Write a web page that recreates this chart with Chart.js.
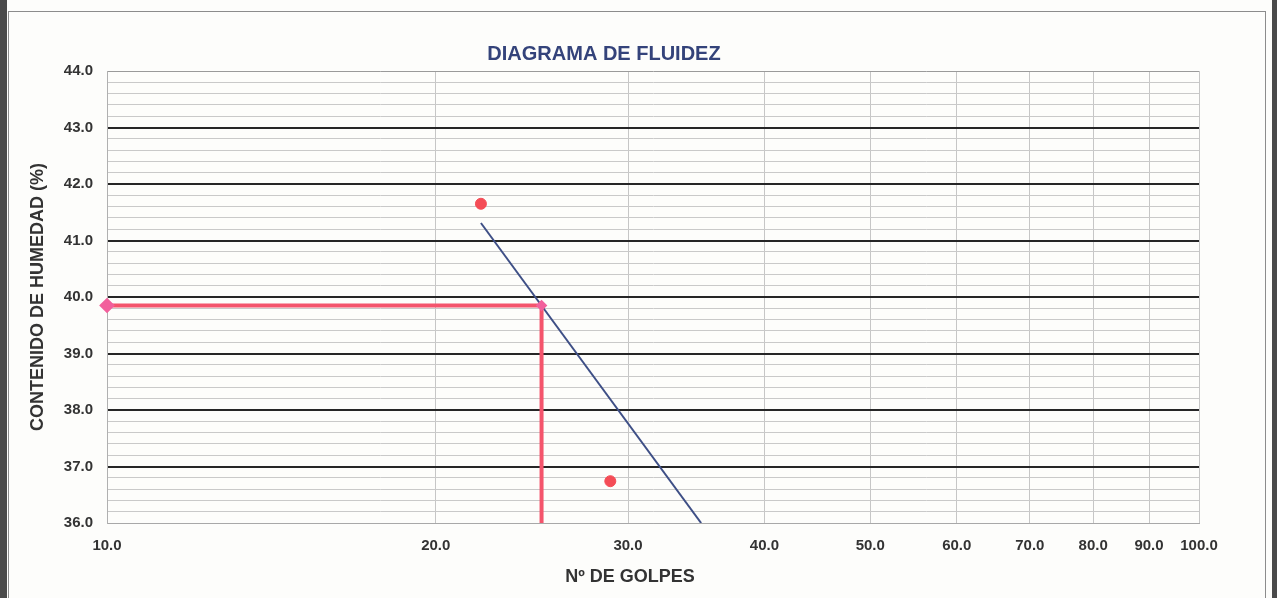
<!DOCTYPE html>
<html lang="es">
<head>
<meta charset="utf-8">
<title>Diagrama de fluidez</title>
<script src="https://cdn.jsdelivr.net/npm/chart.js@4.4.1/dist/chart.umd.min.js"></script>
<style>
    html, body { margin: 0; padding: 0; background: #fdfdfb; }
    #page { position: relative; width: 1277px; height: 598px; overflow: hidden; }
    #page .edge-left { position: absolute; left: 0; top: 0; width: 7px; height: 598px; background: #4a4a4a; }
    #page .edge-right { position: absolute; right: 0; top: 0; width: 5px; height: 598px; background: #4a4a4a; }
    #page .frame { position: absolute; left: 8px; top: 11px; width: 1256px; height: 600px; border: 1px solid #8c8c8c; }
    #chart-box { position: absolute; left: 0; top: 0; width: 1277px; height: 598px; }
</style>
</head>
<body>
<div id="page">
    <div class="edge-left"></div>
    <div class="edge-right"></div>
    <div class="frame"></div>
    <div id="chart-box"><canvas id="fluidez"></canvas></div>
</div>
<script>
// Ensayo de limite liquido: puntos medidos
const golpes = [22.0, 28.9];
const humedad = [41.65, 36.74];

// Recta de fluidez
const rectaGolpes = [22.0, 35.0];
const rectaHumedad = [41.31, 36.0];

// Lectura del limite liquido a 25 golpes
const lecturaGolpes = [10.0, 25.0, 25.0];
const lecturaHumedad = [39.85, 39.85, 36.0];

// Ejes
const xTicks = [10, 20, 30, 40, 50, 60, 70, 80, 90, 100];
const yMin = 36.0;
const yMax = 44.0;

const toPoints = (xs, ys) => xs.map((x, i) => ({ x: x, y: ys[i] }));

const FONT = "'Liberation Sans', Arial, sans-serif";

// Titulo y titulo del eje X
const textos = {
    id: 'textos',
    afterDraw(chart) {
        const ctx = chart.ctx;
        ctx.save();
        ctx.textAlign = 'center';
        ctx.textBaseline = 'middle';
        ctx.fillStyle = '#34437a';
        ctx.font = 'bold 20px ' + FONT;
        ctx.fillText('DIAGRAMA DE FLUIDEZ', 604, 54);
        ctx.fillStyle = '#333333';
        ctx.font = 'bold 18px ' + FONT;
        ctx.fillText('Nº DE GOLPES', 630, 577);
        ctx.restore();
    }
};

const isEntero = v => Math.abs(v - Math.round(v)) < 1e-6;

new Chart(document.getElementById('fluidez'), {
    type: 'scatter',
    data: {
        datasets: [
            {
                label: 'Lectura 25 golpes',
                data: toPoints(lecturaGolpes, lecturaHumedad),
                showLine: true,
                borderColor: '#f4546c',
                borderWidth: 4,
                pointStyle: 'rectRot',
                pointRadius: [5, 3, 0],
                pointBackgroundColor: '#f2609c',
                pointBorderColor: '#f2609c',
                clip: false
            },
            {
                label: 'Recta de fluidez',
                data: toPoints(rectaGolpes, rectaHumedad),
                showLine: true,
                borderColor: '#3e4f86',
                borderWidth: 2,
                pointRadius: 0
            },
            {
                label: 'Ensayos',
                data: toPoints(golpes, humedad),
                showLine: false,
                pointStyle: 'circle',
                pointRadius: 5.5,
                pointBackgroundColor: '#f44c56',
                pointBorderColor: '#f44c56'
            }
        ]
    },
    options: {
        responsive: true,
        maintainAspectRatio: false,
        animation: false,
        layout: { padding: { top: 71, right: 78, bottom: 0, left: 0 } },
        plugins: {
            legend: { display: false },
            tooltip: { enabled: false }
        },
        scales: {
            x: {
                type: 'logarithmic',
                min: 10,
                max: 100,
                afterBuildTicks: scale => { scale.ticks = xTicks.map(v => ({ value: v })); },
                afterFit: scale => { scale.height = 75; },
                ticks: {
                    autoSkip: false,
                    maxRotation: 0,
                    padding: 14,
                    color: '#333333',
                    font: { family: FONT, size: 15, weight: 'bold' },
                    callback: v => Number(v).toFixed(1)
                },
                grid: { color: '#c6c6c6', lineWidth: 1, drawTicks: false },
                border: { color: '#a8a8a8', width: 1 }
            },
            y: {
                min: yMin,
                max: yMax,
                afterFit: scale => { scale.width = 107; },
                ticks: {
                    stepSize: 0.2,
                    autoSkip: false,
                    padding: 14,
                    color: '#333333',
                    font: { family: FONT, size: 15, weight: 'bold' },
                    callback: v => isEntero(v) ? Number(v).toFixed(1) : ''
                },
                grid: {
                    drawTicks: false,
                    color: c => {
                        const v = c.tick ? c.tick.value : 0;
                        if (isEntero(v) && v > yMin && v < yMax) return '#262626';
                        return isEntero(v) ? '#9a9a9a' : '#c9c9c9';
                    },
                    lineWidth: c => {
                        const v = c.tick ? c.tick.value : 0;
                        return isEntero(v) && v > yMin && v < yMax ? 2 : 1;
                    }
                },
                border: { color: '#b0b0b0', width: 1 },
                title: {
                    display: true,
                    text: 'CONTENIDO DE HUMEDAD (%)',
                    color: '#333333',
                    font: { family: FONT, size: 18, weight: 'bold' },
                    padding: { top: 27, bottom: 0 }
                }
            }
        }
    },
    plugins: [textos]
});
</script>
</body>
</html>
